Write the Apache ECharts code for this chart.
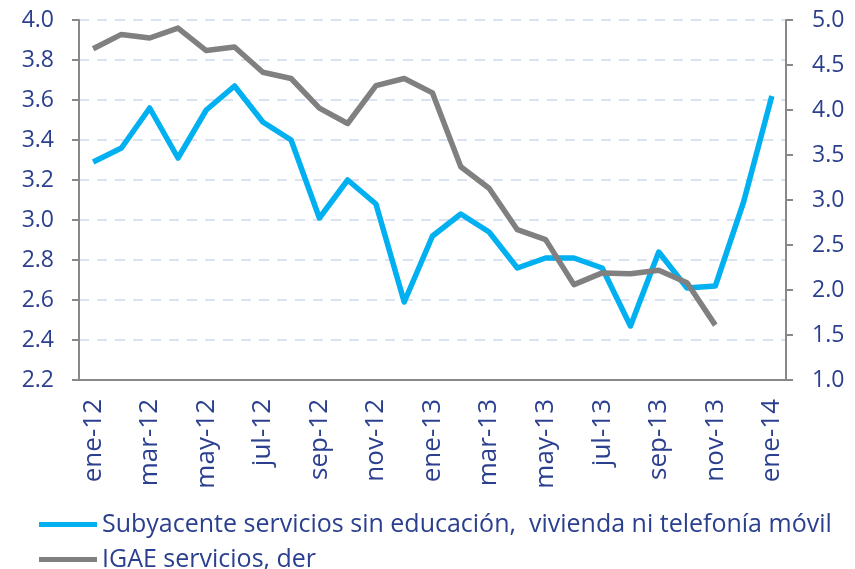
<!DOCTYPE html>
<html>
<head>
<meta charset="utf-8">
<script src="https://cdn.jsdelivr.net/npm/echarts@6/dist/echarts.min.js"></script>
<style>
  html, body { margin: 0; padding: 0; background: #fff; }
  #chart { width: 855px; height: 569px; }
</style>
</head>
<body>
<div id="chart"></div>
<script>
const MONTHS = [
  "ene-12", "feb-12", "mar-12", "abr-12", "may-12", "jun-12", "jul-12", "ago-12",
  "sep-12", "oct-12", "nov-12", "dic-12", "ene-13", "feb-13", "mar-13", "abr-13",
  "may-13", "jun-13", "jul-13", "ago-13", "sep-13", "oct-13", "nov-13", "dic-13",
  "ene-14",
];

// eje izquierdo
const SUBYACENTE = [
  3.29, 3.36, 3.56, 3.31, 3.55, 3.67, 3.49, 3.40, 3.01, 3.20, 3.08, 2.59, 2.92,
  3.03, 2.94, 2.76, 2.81, 2.81, 2.76, 2.47, 2.84, 2.66, 2.67, 3.09, 3.62,
];

// eje derecho
const IGAE = [
  4.68, 4.84, 4.80, 4.91, 4.66, 4.70, 4.42, 4.35, 4.02, 3.85, 4.27, 4.35, 4.19,
  3.37, 3.13, 2.67, 2.56, 2.06, 2.19, 2.18, 2.22, 2.08, 1.61, null, null,
];

const SERIES_NAMES = [
  "Subyacente servicios sin educación,  vivienda ni telefonía móvil",
  "IGAE servicios, der",
];

const TEXT = "#2b3f8f";
const AXIS = "#888888";
const FONT = "Open Sans";

// una leyenda por fila, para que no se reparta en columnas
const legendRow = (name, top) => ({
  orient: "vertical",
  left: 34,
  top,
  itemWidth: 58,
  itemHeight: 5,
  icon: "rect",
  textStyle: { color: TEXT, fontSize: 25, fontFamily: FONT, lineHeight: 27 },
  data: [name],
});

const chart = echarts.init(document.getElementById("chart"), null, { renderer: "canvas" });

chart.setOption({
  animation: false,
  backgroundColor: "#ffffff",
  textStyle: { fontFamily: FONT },
  grid: { left: 79, right: 69, top: 20, bottom: 189 },
  legend: [legendRow(SERIES_NAMES[0], 506), legendRow(SERIES_NAMES[1], 541)],
  xAxis: {
    type: "category",
    data: MONTHS,
    boundaryGap: true,
    axisLine: { lineStyle: { color: AXIS, width: 2 } },
    axisTick: { interval: 1, length: 7, lineStyle: { color: AXIS, width: 2 } },
    axisLabel: {
      interval: 1,
      rotate: 90,
      margin: 19,
      color: TEXT,
      fontSize: 26,
      fontFamily: FONT,
    },
  },
  yAxis: [
    {
      type: "value",
      min: 2.2,
      max: 4.0,
      interval: 0.2,
      axisLine: { show: true, lineStyle: { color: AXIS, width: 2 } },
      axisTick: { show: true, length: 7, lineStyle: { color: AXIS, width: 2 } },
      axisLabel: {
        margin: 25,
        color: TEXT,
        fontSize: 23,
        fontFamily: FONT,
        formatter: (v) => v.toFixed(1),
      },
      splitLine: { lineStyle: { color: "#dbe3f1", width: 2, type: [10, 8] } },
    },
    {
      type: "value",
      min: 1.0,
      max: 5.0,
      interval: 0.5,
      position: "right",
      axisLine: { show: true, lineStyle: { color: AXIS, width: 2 } },
      axisTick: { show: true, length: 7, lineStyle: { color: AXIS, width: 2 } },
      axisLabel: {
        margin: 26,
        color: TEXT,
        fontSize: 23,
        fontFamily: FONT,
        formatter: (v) => v.toFixed(1),
      },
      splitLine: { show: false },
    },
  ],
  series: [
    {
      name: SERIES_NAMES[0],
      type: "line",
      yAxisIndex: 0,
      data: SUBYACENTE,
      showSymbol: false,
      symbol: "none",
      itemStyle: { color: "#00b0f0" },
      lineStyle: { color: "#00b0f0", width: 5.5, join: "round" },
    },
    {
      name: SERIES_NAMES[1],
      type: "line",
      yAxisIndex: 1,
      data: IGAE,
      showSymbol: false,
      symbol: "none",
      itemStyle: { color: "#808080" },
      lineStyle: { color: "#808080", width: 5.5, join: "round" },
    },
  ],
});
</script>
</body>
</html>
